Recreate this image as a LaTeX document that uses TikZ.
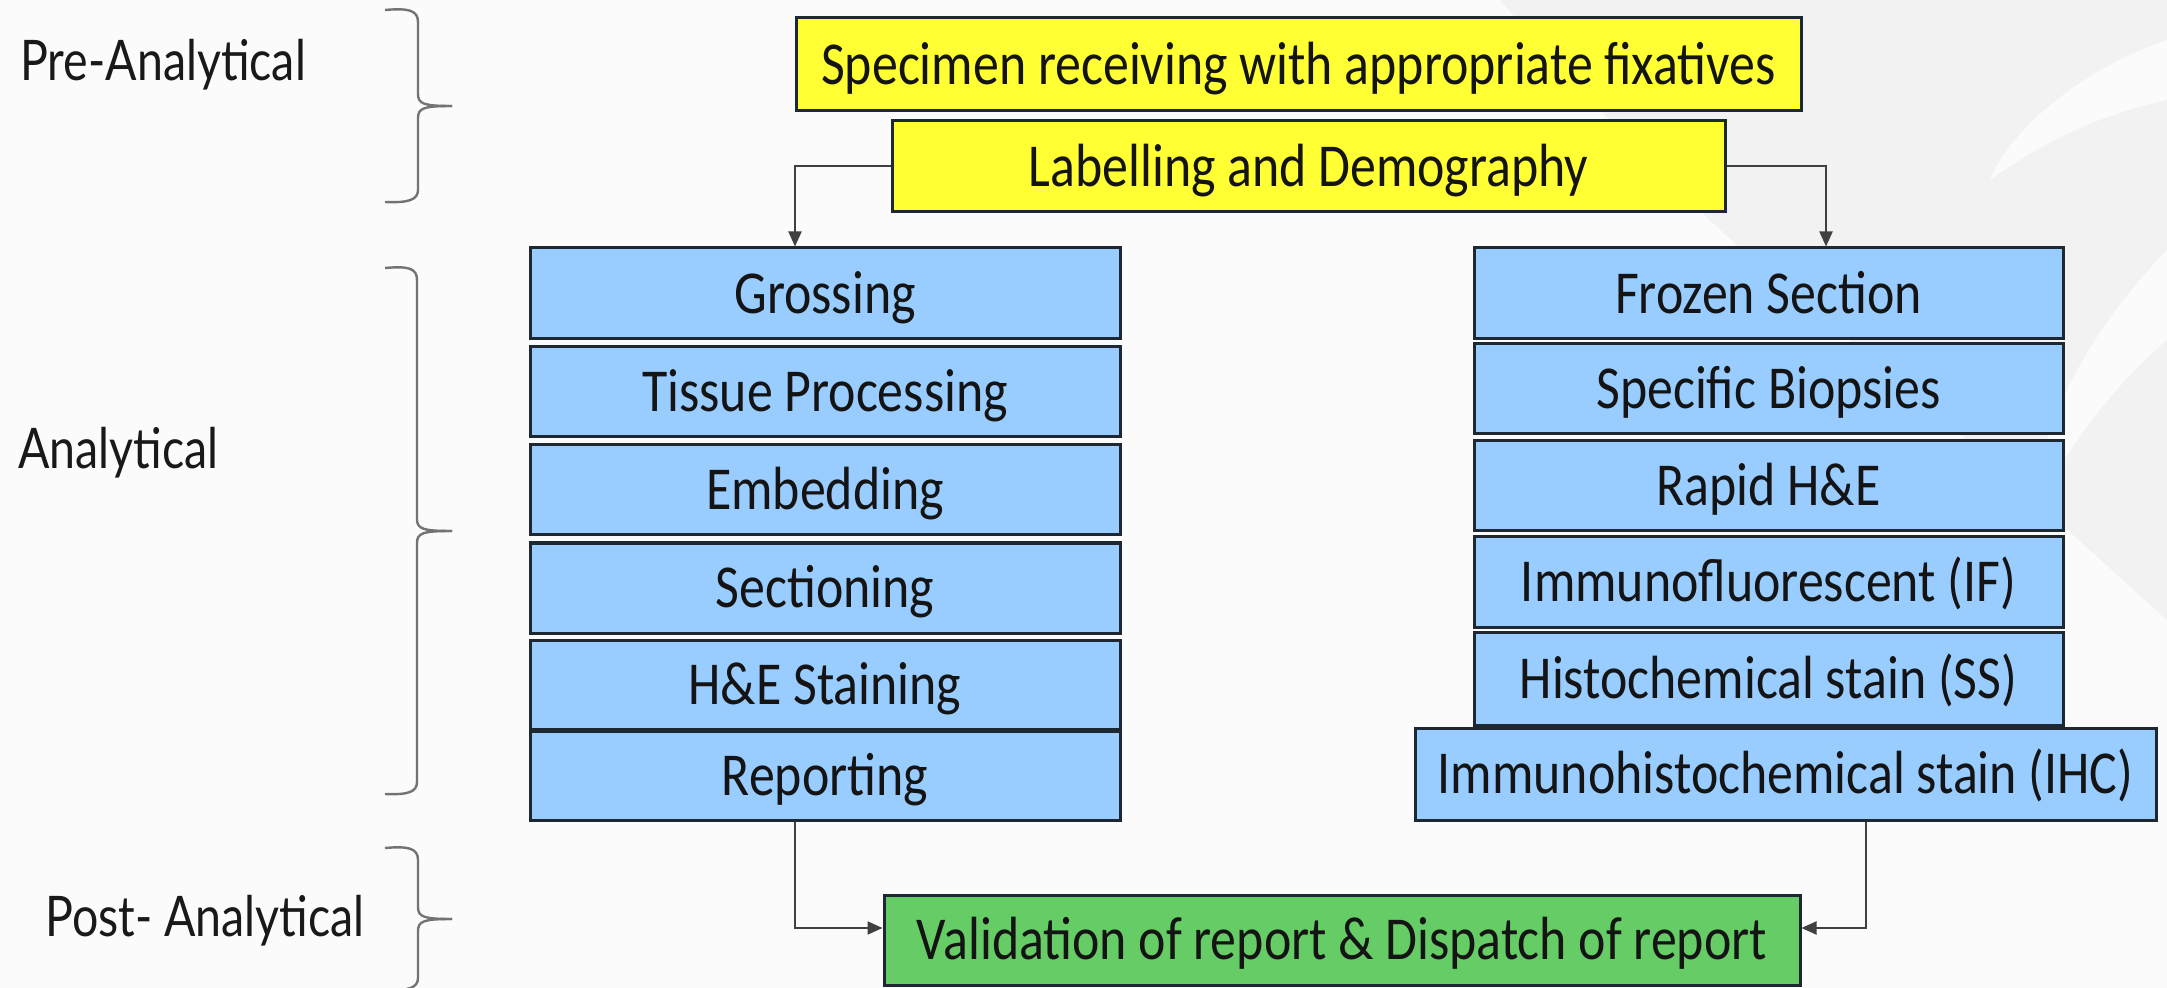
\documentclass[tikz,border=0pt]{standalone}
\usepackage{fontspec}
\setmainfont{Carlito}
\newfontfamily\boxfont[FakeStretch=0.85]{Carlito}
\newfontfamily\labfont[FakeStretch=0.83]{Lato}
\usetikzlibrary{arrows.meta}
\definecolor{boxblue}{RGB}{153,204,255}
\definecolor{boxyellow}{RGB}{255,255,51}
\definecolor{boxgreen}{RGB}{102,204,102}
\definecolor{edgecol}{RGB}{30,40,50}
\definecolor{bgcol}{RGB}{251,251,251}
\definecolor{swooshgray}{RGB}{242,242,242}
\begin{document}
\begin{tikzpicture}[x=0.5pt,y=-0.5pt,
  basebox/.style={draw=edgecol, line width=1.5pt, inner sep=0pt,
    font=\boxfont\fontsize{30.5}{36}\selectfont, text=black!92,
    text height=19.6pt, text depth=0pt},
  bluebox/.style={basebox, fill=boxblue},
  yellowbox/.style={basebox, fill=boxyellow},
  greenbox/.style={basebox, fill=boxgreen},
  lab/.style={font=\labfont\fontsize{28}{32}\selectfont, text=black!90, inner sep=0pt, anchor=base west},
  arr/.style={draw=black!75, line width=1pt, -{Triangle[length=7.5pt,width=6.5pt]}},
  bracecol/.style={draw=black!55, line width=1.2pt}
]
\useasboundingbox (0,0) rectangle (2167,988);
\fill[bgcol] (0,0) rectangle (2167,988);
% faint background shading with light streaks
\fill[swooshgray] (1500,0) -- (2167,0) -- (2167,620) .. controls (2100,560) and (1950,420) .. (1800,300)
  .. controls (1680,200) and (1580,90) .. (1500,0) -- cycle;
\fill[bgcol] (2167,40) .. controls (2080,70) and (2010,130) .. (1990,180)
  .. controls (2060,130) and (2120,110) .. (2167,100) -- cycle;
\fill[bgcol] (2167,250) .. controls (2090,330) and (2040,420) .. (2030,520)
  .. controls (2070,440) and (2120,380) .. (2167,340) -- cycle;

% labels
\node[lab] (pre) at (20,81) {Pre-Analytical};
\node[lab] (ana) at (18,469) {Analytical};
\node[lab] (post) at (45,936) {Post- Analytical};

% braces
\draw[bracecol] (385,10) .. controls (408,8) and (418,10) .. (418,22) -- (418,94)
  .. controls (418,104) and (424,106) .. (452,106);
\draw[bracecol] (452,106) .. controls (424,106) and (418,108) .. (418,118) -- (418,190)
  .. controls (418,200) and (408,203) .. (385,202);
\draw[bracecol] (385,268) .. controls (408,266) and (417,268) .. (417,280) -- (417,519)
  .. controls (417,529) and (423,531) .. (452,531);
\draw[bracecol] (452,531) .. controls (423,531) and (417,533) .. (417,543) -- (417,782)
  .. controls (417,792) and (408,795) .. (385,794);
\draw[bracecol] (385,848) .. controls (408,846) and (418,848) .. (418,860) -- (418,907)
  .. controls (418,917) and (424,919) .. (452,919);
\draw[bracecol] (452,919) .. controls (424,919) and (418,921) .. (418,931) -- (418,978)
  .. controls (418,988) and (408,991) .. (385,990);

% yellow boxes
\node[yellowbox, minimum width=502.5pt, minimum height=46.5pt] (spec) at (1298.5,64.5)
  {Specimen receiving with appropriate fixatives};
\node[yellowbox, minimum width=416.5pt, minimum height=45.5pt] (label) at (1308.5,166.5)
  {Labelling and Demography};

% left column
\node[bluebox, minimum width=295pt, minimum height=45.5pt] (gross) at (825,293.5) {Grossing};
\node[bluebox, minimum width=295pt, minimum height=45pt] (tissue) at (825,392) {Tissue Processing};
\node[bluebox, minimum width=295pt, minimum height=45pt] (embed) at (825,490) {Embedding};
\node[bluebox, minimum width=295pt, minimum height=45pt] (sect) at (825,588) {Sectioning};
\node[bluebox, minimum width=295pt, minimum height=44.5pt] (he) at (825,684.5) {H\&E Staining};
\node[bluebox, minimum width=295pt, minimum height=44.5pt] (rep) at (825,775.5) {Reporting};

% right column
\node[bluebox, minimum width=294.5pt, minimum height=45.5pt] (frozen) at (1768.5,293.5) {Frozen Section};
\node[bluebox, minimum width=294.5pt, minimum height=45pt] (biop) at (1768.5,389) {Specific Biopsies};
\node[bluebox, minimum width=294.5pt, minimum height=45pt] (rapid) at (1768.5,486) {Rapid H\&E};
\node[bluebox, minimum width=294.5pt, minimum height=45pt] (if) at (1768.5,582) {Immunofluorescent (IF)};
\node[bluebox, minimum width=294.5pt, minimum height=46.5pt] (ss) at (1768.5,678.5) {Histochemical stain (SS)};
\node[bluebox, minimum width=370.5pt, minimum height=46pt] (ihc) at (1785.5,774) {Immunohistochemical stain (IHC)};

% green
\node[greenbox, minimum width=458pt, minimum height=45pt] (valid) at (1342,940)
  {Validation of report \& Dispatch of report};

% connectors
\coordinate (la) at (795,0);
\coordinate (ra) at (1826,0);
\coordinate (rb) at (1866,0);
\coordinate (ya) at (0,928);
\draw[arr] (label.west) -| (la |- gross.north);
\draw[arr] (label.east) -| (ra |- frozen.north);
\draw[arr] (la |- rep.south) |- (valid.west |- ya);
\draw[arr] (rb |- ihc.south) |- (valid.east |- ya);
\end{tikzpicture}
\end{document}
